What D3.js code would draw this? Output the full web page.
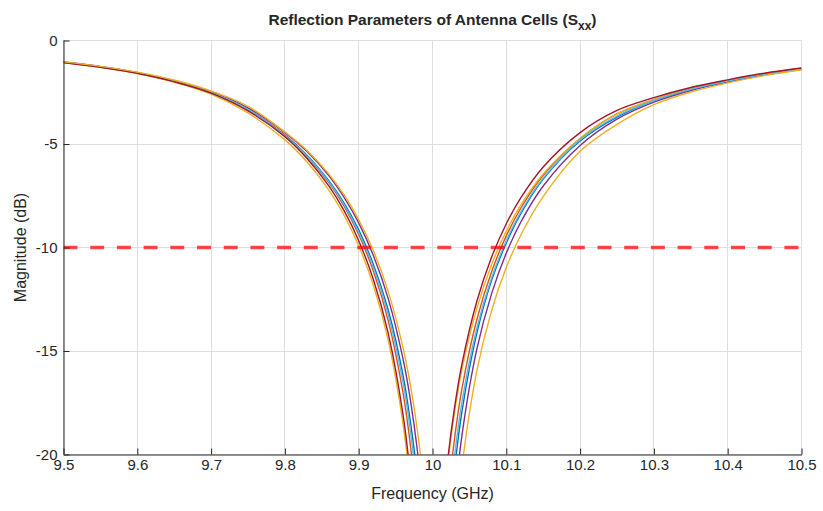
<!DOCTYPE html>
<html><head><meta charset="utf-8">
<script src="https://cdn.jsdelivr.net/npm/d3@7/dist/d3.min.js"></script>
<style>
  body { margin: 0; background: #fff; }
  svg { display: block; }
  text { font-family: "Liberation Sans", Arial, Helvetica, sans-serif; fill: #262626; }
</style>
</head><body>
<svg id="chart" width="823" height="511"></svg>
<script>
// Sampled frequencies (GHz) shared by every cell's S-parameter trace
const freqGHz = [9.5, 9.55, 9.6, 9.65, 9.7, 9.75, 9.8, 9.83, 9.86, 9.88, 9.9, 9.92, 9.94, 9.96, 9.97, 9.98, 9.99,
                 10.0, 10.01, 10.02, 10.03, 10.04, 10.06, 10.08, 10.1, 10.12, 10.15, 10.2, 10.25, 10.3, 10.35, 10.4, 10.45, 10.5];

// |Sxx| in dB for each antenna cell
const s11 = [-1.05, -1.27, -1.56, -1.96, -2.51, -3.33, -4.57, -5.54, -6.80, -7.84, -9.15, -10.83, -13.02, -16.16, -18.40, -21.30, -26.0,
             -36.0, -33.4, -24.9, -20.7, -17.9, -14.15, -11.6, -9.78, -8.34, -6.69, -4.85, -3.70, -2.90, -2.38, -1.97, -1.63, -1.37];
const s22 = [-1.05, -1.28, -1.57, -1.97, -2.52, -3.33, -4.58, -5.60, -6.89, -7.99, -9.37, -11.15, -13.53, -17.01, -19.54, -23.18, -29.6,
             -40.0, -28.2, -22.57, -19.2, -16.8, -13.49, -11.18, -9.44, -8.08, -6.51, -4.74, -3.55, -2.86, -2.33, -1.94, -1.61, -1.35];
const s33 = [-1.07, -1.30, -1.60, -2.02, -2.59, -3.50, -4.80, -5.87, -7.25, -8.43, -9.92, -11.84, -14.49, -18.51, -21.6, -26.5, -38.0,
             -32.4, -24.7, -20.65, -17.93, -15.88, -12.95, -10.83, -9.21, -7.93, -6.45, -4.72, -3.55, -2.84, -2.31, -1.92, -1.59, -1.34];
const s44 = [-1.04, -1.26, -1.55, -1.94, -2.48, -3.25, -4.45, -5.36, -6.55, -7.57, -8.81, -10.40, -12.47, -15.37, -17.35, -19.96, -23.76,
             -30.7, -40.0, -27.5, -22.28, -19.05, -14.92, -12.24, -10.27, -8.75, -7.03, -5.07, -3.80, -2.98, -2.42, -2.00, -1.66, -1.39];
const s55 = [-1.05, -1.27, -1.56, -1.96, -2.51, -3.33, -4.61, -5.58, -6.84, -7.92, -9.26, -10.97, -13.24, -16.52, -18.85, -22.08, -27.3,
             -40.0, -30.9, -23.9, -20.06, -17.45, -13.90, -11.47, -9.67, -8.26, -6.65, -4.80, -3.65, -2.90, -2.36, -1.96, -1.63, -1.37];
const s66 = [-1.06, -1.29, -1.58, -1.99, -2.54, -3.40, -4.65, -5.70, -7.05, -8.21, -9.67, -11.56, -14.15, -18.06, -21.05, -25.7, -36.5,
             -33.1, -24.7, -20.46, -17.70, -15.61, -12.61, -10.47, -8.85, -7.58, -6.11, -4.45, -3.38, -2.76, -2.27, -1.90, -1.58, -1.33];
const s77 = [-1.03, -1.25, -1.53, -1.91, -2.44, -3.18, -4.42, -5.31, -6.47, -7.45, -8.65, -10.16, -12.13, -14.83, -16.64, -18.96, -22.19,
             -27.4, -40.0, -31.4, -24.37, -20.56, -15.97, -13.06, -10.96, -9.37, -7.54, -5.35, -4.05, -3.10, -2.49, -2.05, -1.69, -1.41];

const traces = [s11, s22, s33, s44, s55, s66, s77];
const traceColors = ["#0072BD", "#D95319", "#EDB120", "#7E2F8E", "#4DBEEE", "#A2142F", "#EDB120"];

// -10 dB matching threshold
const thresholdDb = -10;

const xTicks = [9.5, 9.6, 9.7, 9.8, 9.9, 10.0, 10.1, 10.2, 10.3, 10.4, 10.5];
const xTickLabels = ["9.5", "9.6", "9.7", "9.8", "9.9", "10", "10.1", "10.2", "10.3", "10.4", "10.5"];
const yTicks = [-20, -15, -10, -5, 0];
const yTickLabels = ["-20", "-15", "-10", "-5", "0"];

const W = 823, H = 511;
const svg = d3.select("#chart");

const x = d3.scaleLinear().domain([9.5, 10.5]).range([63.5, 801.5]);
const y = d3.scaleLinear().domain([-20, 0]).range([454.5, 40.5]);

// grid
const grid = svg.append("g").attr("shape-rendering", "crispEdges");
grid.selectAll("line.vx").data(xTicks).join("line")
  .attr("x1", d => x(d)).attr("x2", d => x(d))
  .attr("y1", y(0)).attr("y2", y(-20))
  .attr("stroke", "#dedede").attr("stroke-width", 1);
grid.selectAll("line.hy").data(yTicks).join("line")
  .attr("x1", x(9.5)).attr("x2", x(10.5))
  .attr("y1", d => y(d)).attr("y2", d => y(d))
  .attr("stroke", "#dedede").attr("stroke-width", 1);

// plotting area clip
svg.append("clipPath").attr("id", "plotClip")
  .append("rect")
  .attr("x", x(9.5)).attr("y", y(0))
  .attr("width", x(10.5) - x(9.5)).attr("height", y(-20) - y(0));

const plot = svg.append("g").attr("clip-path", "url(#plotClip)");

const line = d3.line()
  .x((d, i) => x(freqGHz[i]))
  .y(d => y(d))
  .curve(d3.curveCatmullRom.alpha(0.5));

plot.selectAll("path.trace").data(traces).join("path")
  .attr("class", "trace")
  .attr("d", d => line(d))
  .attr("fill", "none")
  .attr("stroke", (d, i) => traceColors[i])
  .attr("stroke-width", 1.4);

// threshold
plot.append("line")
  .attr("x1", x(9.5)).attr("x2", x(10.5))
  .attr("y1", y(thresholdDb)).attr("y2", y(thresholdDb))
  .attr("stroke", "#ff0000").attr("stroke-opacity", 0.72)
  .attr("stroke-width", 3.4)
  .attr("stroke-dasharray", "14,12.7");

// axes
const xAxis = d3.axisBottom(x).tickValues(xTicks)
  .tickFormat((d, i) => xTickLabels[i])
  .tickSizeInner(-6).tickSizeOuter(0).tickPadding(5);
const yAxis = d3.axisLeft(y).tickValues(yTicks)
  .tickFormat((d, i) => yTickLabels[i])
  .tickSizeInner(-6).tickSizeOuter(0).tickPadding(6);

const gx = svg.append("g").attr("transform", `translate(0,${y(-20)})`).call(xAxis);
const gy = svg.append("g").attr("transform", `translate(${x(9.5)},0)`).call(yAxis);

[gx, gy].forEach(g => {
  g.select(".domain").attr("stroke", "#262626").attr("stroke-width", 1);
  g.selectAll(".tick line").attr("stroke", "#262626");
  g.selectAll(".tick text").attr("font-size", 15).attr("fill", "#262626")
    .style("font-family", "'Liberation Sans', Arial, sans-serif");
});
gy.select(".domain").attr("d", `M0.5,${y(-20)}V${y(0)}`);

// axis titles
svg.append("text")
  .attr("x", (x(9.5) + x(10.5)) / 2).attr("y", 499)
  .attr("text-anchor", "middle").attr("font-size", 16)
  .text("Frequency (GHz)");

svg.append("text")
  .attr("transform", `translate(26,${(y(0) + y(-20)) / 2}) rotate(-90)`)
  .attr("text-anchor", "middle").attr("font-size", 16)
  .text("Magnitude (dB)");

// chart title with subscript
const title = svg.append("text")
  .attr("x", (x(9.5) + x(10.5)) / 2).attr("y", 25)
  .attr("text-anchor", "middle").attr("font-size", 15.5).attr("font-weight", "bold")
  .attr("fill", "#000");
title.append("tspan").text("Reflection Parameters of Antenna Cells (S");
title.append("tspan").attr("font-size", 12).attr("dy", 5).text("xx");
title.append("tspan").attr("dy", -5).text(")");
</script>
</body></html>
